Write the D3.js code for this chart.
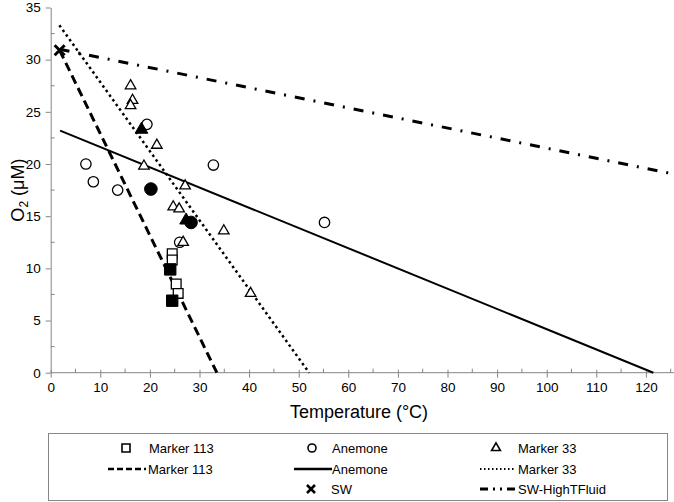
<!DOCTYPE html>
<html>
<head>
<meta charset="utf-8">
<script src="https://cdn.jsdelivr.net/npm/d3@7/dist/d3.min.js"></script>
<style>
  body { margin: 0; background: #fff; }
  svg text { font-family: "Liberation Sans", Arial, sans-serif; fill: #000; }
</style>
</head>
<body>
<div id="graph"></div>
<script>
// temperature (°C), O2 (µM)
const marker113Open = [[24.5, 11.4], [24.5, 10.8], [25.3, 8.5], [25.7, 7.6]];
const marker113Filled = [[24.1, 9.9], [24.5, 6.9]];
const anemoneOpen = [[7.1, 20.0], [8.6, 18.3], [13.5, 17.5], [19.4, 23.8], [32.8, 19.9], [55.2, 14.4], [26.0, 12.5]];
const anemoneFilled = [[20.2, 17.6], [28.3, 14.4]];
const marker33Open = [[16.1, 27.5], [16.5, 26.1], [16.1, 25.6], [21.4, 21.8], [18.8, 19.8], [27.1, 17.9],
  [24.7, 15.9], [25.9, 15.7], [34.9, 13.6], [26.7, 12.5], [40.3, 7.6]];
const marker33Filled = [[18.3, 23.3], [27.3, 14.6]];
const sw = [[1.8, 30.9]];

// fitted lines (end points)
const marker113Fit = [[1.8, 30.9], [33.5, 0]];
const anemoneFit = [[1.9, 23.2], [121.5, 0]];
const marker33Fit = [[1.75, 33.3], [52.1, 0]];
const swHighTFit = [[1.8, 31.0], [125, 19.1]];

const xTicks = d3.range(0, 121, 10);
const xMinor = d3.range(5, 126, 10);
const yTicks = d3.range(0, 36, 5);
const yMinor = d3.range(2.5, 35, 5);

const width = 674, height = 502;
const axisColor = "#868686";

const svg = d3.select("#graph")
  .append("svg")
  .attr("width", width)
  .attr("height", height);

const x = d3.scaleLinear().domain([0, 125]).range([50.7, 670.7]);
const y = d3.scaleLinear().domain([0, 35]).range([372.7, 7.5]);

// axes
const xAxis = svg.append("g").attr("transform", `translate(0,${y(0)})`);
xAxis.call(d3.axisBottom(x).tickValues(xTicks).tickSize(5).tickSizeOuter(0).tickPadding(5));
xAxis.selectAll(".tick line").attr("y1", -3);
xAxis.append("g").selectAll("line").data(xMinor).enter()
  .append("line")
  .attr("x1", d => x(d)).attr("x2", d => x(d))
  .attr("y1", 0).attr("y2", -4);

const yAxis = svg.append("g").attr("transform", `translate(${x(0)},0)`);
yAxis.call(d3.axisLeft(y).tickValues(yTicks).tickSize(5).tickSizeOuter(0).tickPadding(5));
yAxis.append("g").selectAll("line").data(yMinor).enter()
  .append("line")
  .attr("x1", 0).attr("x2", 4)
  .attr("y1", d => y(d)).attr("y2", d => y(d));

svg.selectAll(".domain").attr("stroke", axisColor);
svg.selectAll("line").attr("stroke", axisColor);
svg.selectAll(".tick text").attr("font-size", 13.5).attr("fill", "#000");

xAxis.select(".domain").attr("d", `M${x(0)},0H${width}`);

// titles
svg.append("text")
  .attr("x", 359).attr("y", 418)
  .attr("text-anchor", "middle")
  .attr("font-size", 18)
  .text("Temperature (°C)");

const yTitle = svg.append("text")
  .attr("transform", `translate(24,${(y(0) + y(35)) / 2}) rotate(-90)`)
  .attr("text-anchor", "middle")
  .attr("font-size", 18);
yTitle.append("tspan").text("O");
yTitle.append("tspan").attr("font-size", 12).attr("dy", 4).text("2");
yTitle.append("tspan").attr("dy", -4).text(" (μM)");

// fitted lines
const line = d3.line().x(d => x(d[0])).y(d => y(d[1]));
const lines = svg.append("g").attr("fill", "none").attr("stroke", "#000");

lines.append("path").datum(swHighTFit)
  .attr("d", line).attr("stroke-width", 3).attr("stroke-dasharray", "10,9,2,9");
lines.append("path").datum(anemoneFit)
  .attr("d", line).attr("stroke-width", 2);
lines.append("path").datum(marker33Fit)
  .attr("d", line).attr("stroke-width", 2.5).attr("stroke-dasharray", "2.5,3.2");
lines.append("path").datum(marker113Fit)
  .attr("d", line).attr("stroke-width", 3).attr("stroke-dasharray", "9,5");

// markers
const square = d3.symbol(d3.symbolSquare, 95);
const squareFilled = d3.symbol(d3.symbolSquare, 130);
const circle = d3.symbol(d3.symbolCircle, 85);
const circleFilled = d3.symbol(d3.symbolCircle, 125);
const triangle = d3.symbol(d3.symbolTriangle, 48);
const triangleFilled = d3.symbol(d3.symbolTriangle, 70);

function drawPoints(data, symbol, filled) {
  svg.append("g").selectAll("path").data(data).enter()
    .append("path")
    .attr("transform", d => `translate(${x(d[0])},${y(d[1])})`)
    .attr("d", symbol)
    .attr("fill", filled ? "#000" : "#fff")
    .attr("stroke", "#000")
    .attr("stroke-width", filled ? 1 : 1.3);
}

drawPoints(anemoneOpen, circle, false);
drawPoints(marker33Open, triangle, false);
drawPoints(marker113Open, square, false);
drawPoints(anemoneFilled, circleFilled, true);
drawPoints(marker33Filled, triangleFilled, true);
drawPoints(marker113Filled, squareFilled, true);

svg.append("g").selectAll("path").data(sw).enter()
  .append("path")
  .attr("transform", d => `translate(${x(d[0])},${y(d[1])})`)
  .attr("d", "M-5,-5L5,5M-5,5L5,-5")
  .attr("stroke", "#000")
  .attr("stroke-width", 3);

// legend
const legend = svg.append("g");
legend.append("rect")
  .attr("x", 48.5).attr("y", 433.5)
  .attr("width", 619).attr("height", 67)
  .attr("fill", "none").attr("stroke", axisColor);

const rows = [448, 469, 489];
const legendItems = [
  {label: "Marker 113", tx: 149, row: 0, sym: d3.symbol(d3.symbolSquare, 64), sx: 126},
  {label: "Anemone", tx: 332, row: 0, sym: d3.symbol(d3.symbolCircle, 50), sx: 312},
  {label: "Marker 33", tx: 518, row: 0, sym: d3.symbol(d3.symbolTriangle, 34), sx: 496},
  {label: "Marker 113", tx: 148, row: 1, dash: "6,3", w: 2.5, lx: [108, 146]},
  {label: "Anemone", tx: 332, row: 1, dash: null, w: 2.5, lx: [294, 332]},
  {label: "Marker 33", tx: 518, row: 1, dash: "1.5,2.5", w: 2, lx: [480, 516]},
  {label: "SW", tx: 331, row: 2, cross: true, sx: 311},
  {label: "SW-HighTFluid", tx: 518, row: 2, dash: "8,5,2,5,2,5", w: 3, lx: [480, 516]}
];

legendItems.forEach(d => {
  const cy = rows[d.row];
  if (d.sym) {
    legend.append("path")
      .attr("transform", `translate(${d.sx},${cy})`)
      .attr("d", d.sym)
      .attr("fill", "#fff").attr("stroke", "#000").attr("stroke-width", 1.6);
  } else if (d.cross) {
    legend.append("path")
      .attr("transform", `translate(${d.sx},${cy})`)
      .attr("d", "M-4,-4L4,4M-4,4L4,-4")
      .attr("stroke", "#000").attr("stroke-width", 2.5);
  } else {
    legend.append("line")
      .attr("x1", d.lx[0]).attr("x2", d.lx[1])
      .attr("y1", cy).attr("y2", cy)
      .attr("stroke", "#000").attr("stroke-width", d.w)
      .attr("stroke-dasharray", d.dash);
  }
  legend.append("text")
    .attr("x", d.tx).attr("y", cy + 5)
    .attr("font-size", 13)
    .text(d.label);
});
</script>
</body>
</html>
